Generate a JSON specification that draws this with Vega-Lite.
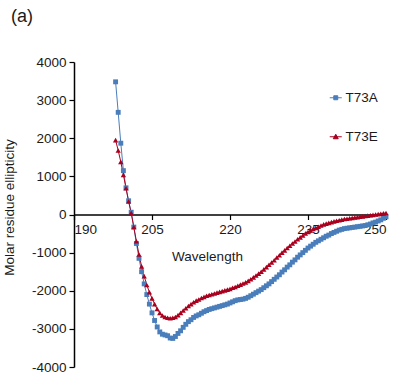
{
  "$schema": "https://vega.github.io/schema/vega-lite/v6.json",
  "autosize": "none",
  "width": 312,
  "height": 305,
  "padding": {"left": 74, "top": 62, "right": 27, "bottom": 8},
  "config": {
    "font": "Liberation Sans",
    "view": {"stroke": null},
    "axis": {"grid": false, "labelFont": "Liberation Sans", "labelFontSize": 13.5, "labelColor": "#1a1a1a", "titleFont": "Liberation Sans", "titleFontSize": 13.5, "titleFontWeight": "normal", "titleColor": "#1a1a1a", "domainColor": "#000000", "tickColor": "#000000", "domainWidth": 1.5, "tickWidth": 1.2, "tickSize": 5}
  },
  "title": {"text": "(a)", "anchor": "start", "frame": "group", "fontSize": 18, "fontWeight": "normal", "font": "Liberation Sans", "color": "#1a1a1a", "dx": -63, "dy": -25},
  "datasets": {
    "cd": [
      {"w":198,"v":3480,"s":"T73A"},{"w":198.5,"v":2680,"s":"T73A"},{"w":199,"v":1870,"s":"T73A"},{"w":199.5,"v":1150,"s":"T73A"},{"w":200,"v":700,"s":"T73A"},{"w":200.5,"v":360,"s":"T73A"},{"w":201,"v":60,"s":"T73A"},{"w":201.5,"v":-330,"s":"T73A"},{"w":202,"v":-760,"s":"T73A"},{"w":202.5,"v":-1150,"s":"T73A"},{"w":203,"v":-1500,"s":"T73A"},{"w":203.5,"v":-1820,"s":"T73A"},{"w":204,"v":-2100,"s":"T73A"},{"w":204.5,"v":-2350,"s":"T73A"},{"w":205,"v":-2580,"s":"T73A"},{"w":205.5,"v":-2780,"s":"T73A"},{"w":206,"v":-2950,"s":"T73A"},{"w":206.5,"v":-3080,"s":"T73A"},{"w":207,"v":-3140,"s":"T73A"},{"w":207.5,"v":-3160,"s":"T73A"},{"w":208,"v":-3180,"s":"T73A"},{"w":208.5,"v":-3240,"s":"T73A"},{"w":209,"v":-3250,"s":"T73A"},{"w":209.5,"v":-3200,"s":"T73A"},{"w":210,"v":-3120,"s":"T73A"},{"w":210.5,"v":-3050,"s":"T73A"},{"w":211,"v":-2960,"s":"T73A"},{"w":211.5,"v":-2880,"s":"T73A"},{"w":212,"v":-2810,"s":"T73A"},{"w":212.5,"v":-2760,"s":"T73A"},{"w":213,"v":-2700,"s":"T73A"},{"w":213.5,"v":-2660,"s":"T73A"},{"w":214,"v":-2630,"s":"T73A"},{"w":214.5,"v":-2590,"s":"T73A"},{"w":215,"v":-2550,"s":"T73A"},{"w":215.5,"v":-2520,"s":"T73A"},{"w":216,"v":-2490,"s":"T73A"},{"w":216.5,"v":-2470,"s":"T73A"},{"w":217,"v":-2450,"s":"T73A"},{"w":217.5,"v":-2430,"s":"T73A"},{"w":218,"v":-2410,"s":"T73A"},{"w":218.5,"v":-2390,"s":"T73A"},{"w":219,"v":-2370,"s":"T73A"},{"w":219.5,"v":-2350,"s":"T73A"},{"w":220,"v":-2320,"s":"T73A"},{"w":220.5,"v":-2290,"s":"T73A"},{"w":221,"v":-2260,"s":"T73A"},{"w":221.5,"v":-2240,"s":"T73A"},{"w":222,"v":-2230,"s":"T73A"},{"w":222.5,"v":-2220,"s":"T73A"},{"w":223,"v":-2200,"s":"T73A"},{"w":223.5,"v":-2170,"s":"T73A"},{"w":224,"v":-2130,"s":"T73A"},{"w":224.5,"v":-2090,"s":"T73A"},{"w":225,"v":-2050,"s":"T73A"},{"w":225.5,"v":-2010,"s":"T73A"},{"w":226,"v":-1970,"s":"T73A"},{"w":226.5,"v":-1920,"s":"T73A"},{"w":227,"v":-1870,"s":"T73A"},{"w":227.5,"v":-1820,"s":"T73A"},{"w":228,"v":-1760,"s":"T73A"},{"w":228.5,"v":-1700,"s":"T73A"},{"w":229,"v":-1640,"s":"T73A"},{"w":229.5,"v":-1580,"s":"T73A"},{"w":230,"v":-1510,"s":"T73A"},{"w":230.5,"v":-1450,"s":"T73A"},{"w":231,"v":-1380,"s":"T73A"},{"w":231.5,"v":-1320,"s":"T73A"},{"w":232,"v":-1250,"s":"T73A"},{"w":232.5,"v":-1190,"s":"T73A"},{"w":233,"v":-1120,"s":"T73A"},{"w":233.5,"v":-1060,"s":"T73A"},{"w":234,"v":-1000,"s":"T73A"},{"w":234.5,"v":-940,"s":"T73A"},{"w":235,"v":-880,"s":"T73A"},{"w":235.5,"v":-830,"s":"T73A"},{"w":236,"v":-780,"s":"T73A"},{"w":236.5,"v":-730,"s":"T73A"},{"w":237,"v":-690,"s":"T73A"},{"w":237.5,"v":-650,"s":"T73A"},{"w":238,"v":-610,"s":"T73A"},{"w":238.5,"v":-570,"s":"T73A"},{"w":239,"v":-540,"s":"T73A"},{"w":239.5,"v":-500,"s":"T73A"},{"w":240,"v":-470,"s":"T73A"},{"w":240.5,"v":-440,"s":"T73A"},{"w":241,"v":-410,"s":"T73A"},{"w":241.5,"v":-390,"s":"T73A"},{"w":242,"v":-370,"s":"T73A"},{"w":242.5,"v":-360,"s":"T73A"},{"w":243,"v":-350,"s":"T73A"},{"w":243.5,"v":-340,"s":"T73A"},{"w":244,"v":-330,"s":"T73A"},{"w":244.5,"v":-320,"s":"T73A"},{"w":245,"v":-310,"s":"T73A"},{"w":245.5,"v":-300,"s":"T73A"},{"w":246,"v":-290,"s":"T73A"},{"w":246.5,"v":-270,"s":"T73A"},{"w":247,"v":-250,"s":"T73A"},{"w":247.5,"v":-220,"s":"T73A"},{"w":248,"v":-200,"s":"T73A"},{"w":248.5,"v":-170,"s":"T73A"},{"w":249,"v":-140,"s":"T73A"},{"w":249.5,"v":-100,"s":"T73A"},{"w":250,"v":-60,"s":"T73A"},
      {"w":198,"v":1950,"s":"T73E"},{"w":198.5,"v":1680,"s":"T73E"},{"w":199,"v":1380,"s":"T73E"},{"w":199.5,"v":1040,"s":"T73E"},{"w":200,"v":690,"s":"T73E"},{"w":200.5,"v":340,"s":"T73E"},{"w":201,"v":40,"s":"T73E"},{"w":201.5,"v":-330,"s":"T73E"},{"w":202,"v":-700,"s":"T73E"},{"w":202.5,"v":-1050,"s":"T73E"},{"w":203,"v":-1360,"s":"T73E"},{"w":203.5,"v":-1620,"s":"T73E"},{"w":204,"v":-1850,"s":"T73E"},{"w":204.5,"v":-2040,"s":"T73E"},{"w":205,"v":-2200,"s":"T73E"},{"w":205.5,"v":-2350,"s":"T73E"},{"w":206,"v":-2480,"s":"T73E"},{"w":206.5,"v":-2580,"s":"T73E"},{"w":207,"v":-2650,"s":"T73E"},{"w":207.5,"v":-2690,"s":"T73E"},{"w":208,"v":-2710,"s":"T73E"},{"w":208.5,"v":-2720,"s":"T73E"},{"w":209,"v":-2710,"s":"T73E"},{"w":209.5,"v":-2690,"s":"T73E"},{"w":210,"v":-2640,"s":"T73E"},{"w":210.5,"v":-2580,"s":"T73E"},{"w":211,"v":-2520,"s":"T73E"},{"w":211.5,"v":-2460,"s":"T73E"},{"w":212,"v":-2400,"s":"T73E"},{"w":212.5,"v":-2350,"s":"T73E"},{"w":213,"v":-2300,"s":"T73E"},{"w":213.5,"v":-2260,"s":"T73E"},{"w":214,"v":-2230,"s":"T73E"},{"w":214.5,"v":-2190,"s":"T73E"},{"w":215,"v":-2160,"s":"T73E"},{"w":215.5,"v":-2130,"s":"T73E"},{"w":216,"v":-2110,"s":"T73E"},{"w":216.5,"v":-2090,"s":"T73E"},{"w":217,"v":-2070,"s":"T73E"},{"w":217.5,"v":-2050,"s":"T73E"},{"w":218,"v":-2030,"s":"T73E"},{"w":218.5,"v":-2010,"s":"T73E"},{"w":219,"v":-1990,"s":"T73E"},{"w":219.5,"v":-1970,"s":"T73E"},{"w":220,"v":-1950,"s":"T73E"},{"w":220.5,"v":-1920,"s":"T73E"},{"w":221,"v":-1900,"s":"T73E"},{"w":221.5,"v":-1870,"s":"T73E"},{"w":222,"v":-1840,"s":"T73E"},{"w":222.5,"v":-1810,"s":"T73E"},{"w":223,"v":-1780,"s":"T73E"},{"w":223.5,"v":-1740,"s":"T73E"},{"w":224,"v":-1700,"s":"T73E"},{"w":224.5,"v":-1650,"s":"T73E"},{"w":225,"v":-1600,"s":"T73E"},{"w":225.5,"v":-1550,"s":"T73E"},{"w":226,"v":-1500,"s":"T73E"},{"w":226.5,"v":-1440,"s":"T73E"},{"w":227,"v":-1380,"s":"T73E"},{"w":227.5,"v":-1320,"s":"T73E"},{"w":228,"v":-1260,"s":"T73E"},{"w":228.5,"v":-1200,"s":"T73E"},{"w":229,"v":-1130,"s":"T73E"},{"w":229.5,"v":-1070,"s":"T73E"},{"w":230,"v":-1000,"s":"T73E"},{"w":230.5,"v":-940,"s":"T73E"},{"w":231,"v":-880,"s":"T73E"},{"w":231.5,"v":-820,"s":"T73E"},{"w":232,"v":-760,"s":"T73E"},{"w":232.5,"v":-710,"s":"T73E"},{"w":233,"v":-650,"s":"T73E"},{"w":233.5,"v":-600,"s":"T73E"},{"w":234,"v":-550,"s":"T73E"},{"w":234.5,"v":-500,"s":"T73E"},{"w":235,"v":-460,"s":"T73E"},{"w":235.5,"v":-420,"s":"T73E"},{"w":236,"v":-380,"s":"T73E"},{"w":236.5,"v":-350,"s":"T73E"},{"w":237,"v":-320,"s":"T73E"},{"w":237.5,"v":-290,"s":"T73E"},{"w":238,"v":-260,"s":"T73E"},{"w":238.5,"v":-240,"s":"T73E"},{"w":239,"v":-220,"s":"T73E"},{"w":239.5,"v":-200,"s":"T73E"},{"w":240,"v":-180,"s":"T73E"},{"w":240.5,"v":-165,"s":"T73E"},{"w":241,"v":-150,"s":"T73E"},{"w":241.5,"v":-135,"s":"T73E"},{"w":242,"v":-120,"s":"T73E"},{"w":242.5,"v":-110,"s":"T73E"},{"w":243,"v":-100,"s":"T73E"},{"w":243.5,"v":-90,"s":"T73E"},{"w":244,"v":-80,"s":"T73E"},{"w":244.5,"v":-70,"s":"T73E"},{"w":245,"v":-60,"s":"T73E"},{"w":245.5,"v":-50,"s":"T73E"},{"w":246,"v":-40,"s":"T73E"},{"w":246.5,"v":-30,"s":"T73E"},{"w":247,"v":-20,"s":"T73E"},{"w":247.5,"v":-10,"s":"T73E"},{"w":248,"v":0,"s":"T73E"},{"w":248.5,"v":10,"s":"T73E"},{"w":249,"v":20,"s":"T73E"},{"w":249.5,"v":30,"s":"T73E"},{"w":250,"v":40,"s":"T73E"}
    ]
  },
  "data": {"name": "cd"},
  "encoding": {
    "x": {"field": "w", "type": "quantitative", "scale": {"domain": [190, 250], "nice": false, "zero": false},
      "axis": {"values": [190, 205, 220, 235, 250], "offset": -152.5, "title": "Wavelength", "titleX": 133, "titleY": 35, "titleBaseline": "top", "labelPadding": 3}},
    "y": {"field": "v", "type": "quantitative", "scale": {"domain": [-4000, 4000], "nice": false},
      "axis": {"values": [-4000, -3000, -2000, -1000, 0, 1000, 2000, 3000, 4000], "format": "d", "labelExpr": "replace(datum.label, '\u2212', '-')", "title": "Molar residue ellipticity", "titleX": -65, "titleY": 145, "titleAngle": -90, "titleAlign": "center", "titleBaseline": "middle", "labelPadding": 3}},
    "color": {"field": "s", "type": "nominal", "scale": {"domain": ["T73A", "T73E"], "range": ["#4A7EBB", "#A8001E"]},
      "legend": {"title": null, "orient": "none", "legendX": 255, "legendY": 29, "labelFontSize": 13.5, "labelColor": "#1a1a1a", "labelFont": "Liberation Sans", "rowPadding": 24, "symbolSize": 100, "labelOffset": 3, "symbolStrokeWidth": 1, "symbolOpacity": 1,
        "encode": {"symbols": {"update": {
          "shape": {"signal": "datum.value === 'T73A' ? 'M-1.2,0H1.2M-0.4,-0.4H0.4V0.4H-0.4Z' : 'M-1.2,0H1.2M0,-0.5L0.5,0.4H-0.5Z'"}}}}}}
  },
  "layer": [
    {"mark": {"type": "line", "strokeWidth": 1}},
    {"transform": [{"filter": "datum.s === 'T73A'"}],
      "mark": {"type": "point", "filled": true, "opacity": 1, "size": 24, "shape": "square"}},
    {"transform": [{"filter": "datum.s === 'T73E'"}],
      "mark": {"type": "point", "filled": true, "opacity": 1, "size": 28, "shape": "triangle-up"}}
  ]
}
